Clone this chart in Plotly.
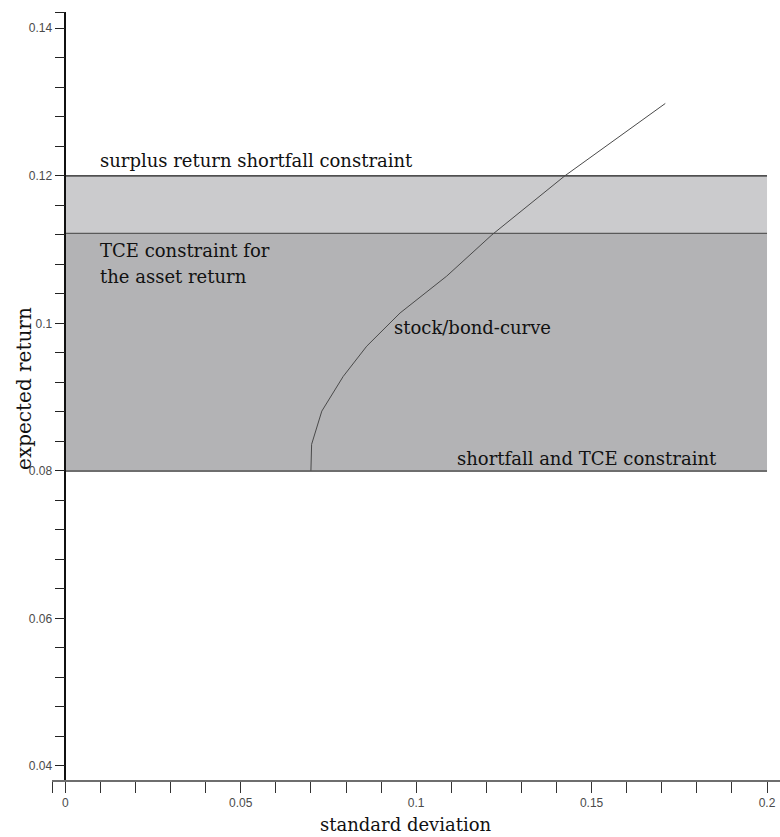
import plotly.graph_objects as go

# Stock/bond efficient curve (standard deviation, expected return)
curve_sd = [0.0700, 0.0702, 0.0731, 0.0792, 0.0859, 0.0954, 0.1087, 0.1216, 0.1424, 0.1710]
curve_ret = [0.0800, 0.0836, 0.0881, 0.0928, 0.0969, 0.1014, 0.1064, 0.1120, 0.1200, 0.1298]

# Constraint levels for expected return
shortfall_tce_level = 0.080
tce_asset_level = 0.1122
surplus_shortfall_level = 0.120
band_sd = [0.0, 0.2]

# Axis ticks
x_ticks = [-0.0037, 0.0, 0.05, 0.10, 0.15, 0.20]
x_labels = ["", "0", "0.05", "0.1", "0.15", "0.2"]
y_ticks = [0.04, 0.06, 0.08, 0.10, 0.12, 0.14, 0.1421]
y_labels = ["0.04", "0.06", "0.08", "0.1", "0.12", "0.14", ""]

x_range = [-0.0038, 0.2037]
y_range = [0.0381, 0.1422]

serif = "DejaVu Serif"
sans = "Liberation Sans"

fig = go.Figure()

# Shaded constraint bands
fig.add_shape(type="rect", xref="x", yref="y", layer="below",
              x0=band_sd[0], x1=band_sd[1], y0=tce_asset_level, y1=surplus_shortfall_level,
              fillcolor="#cbcbcd", line_width=0)
fig.add_shape(type="rect", xref="x", yref="y", layer="below",
              x0=band_sd[0], x1=band_sd[1], y0=shortfall_tce_level, y1=tce_asset_level,
              fillcolor="#b3b3b5", line_width=0)

# Constraint boundary lines
fig.add_trace(go.Scatter(x=band_sd, y=[surplus_shortfall_level] * 2, mode="lines",
                         line=dict(color="#1a1a1a", width=1.2), hoverinfo="skip"))
fig.add_trace(go.Scatter(x=band_sd, y=[tce_asset_level] * 2, mode="lines",
                         line=dict(color="#5a5a5a", width=1.2), hoverinfo="skip"))
fig.add_trace(go.Scatter(x=band_sd, y=[shortfall_tce_level] * 2, mode="lines",
                         line=dict(color="#6e6e6e", width=2), hoverinfo="skip"))

# Stock/bond curve
fig.add_trace(go.Scatter(x=curve_sd, y=curve_ret, mode="lines",
                         line=dict(color="#4a4a4a", width=1), hoverinfo="skip"))

label_font = dict(family=serif, size=18, color="#111111")
labels = [
    ("surplus return shortfall constraint", 0.0093, 0.1221),
    ("TCE constraint for", 0.0093, 0.1099),
    ("the asset return", 0.0093, 0.1063),
    ("stock/bond-curve", 0.0931, 0.0995),
    ("shortfall and TCE constraint", 0.1111, 0.0817),
]
for text, x, y in labels:
    fig.add_annotation(text=text, x=x, y=y, xref="x", yref="y", xanchor="left",
                       yanchor="middle", showarrow=False, font=label_font)

# Axis titles
fig.add_annotation(text="standard deviation", x=0.0971, y=-0.0740, xref="x", yref="paper",
                   xanchor="center", yanchor="bottom", showarrow=False, font=label_font)
fig.add_annotation(text="expected return", x=-0.0375, y=0.0912, xref="paper", yref="y",
                   xanchor="center", yanchor="middle", textangle=-90, showarrow=False,
                   font=dict(family=serif, size=20, color="#111111"))

fig.update_layout(
    width=780, height=837,
    margin=dict(l=52, r=0, t=12, b=57),
    paper_bgcolor="white", plot_bgcolor="white",
    showlegend=False,
    xaxis=dict(range=x_range, showgrid=False, zeroline=False,
               showline=True, linecolor="#6e6e6e", linewidth=2,
               tickmode="array", tickvals=x_ticks, ticktext=x_labels,
               ticks="outside", ticklen=11, tickwidth=1.3, tickcolor="#333333",
               tickfont=dict(family=sans, size=12, color="#4a4a4a"),
               minor=dict(dtick=0.01, tick0=0, ticks="outside", ticklen=11,
                          tickwidth=1.3, tickcolor="#333333", showgrid=False)),
    yaxis=dict(range=y_range, showgrid=False, zeroline=False,
               anchor="free", position=0.0183,
               showline=True, linecolor="#111111", linewidth=1.5,
               tickmode="array", tickvals=y_ticks, ticktext=y_labels,
               ticks="outside", ticklen=10, tickwidth=1.3, tickcolor="#222222",
               tickfont=dict(family=sans, size=12, color="#4a4a4a"),
               minor=dict(dtick=0.004, tick0=0.04, ticks="outside", ticklen=10,
                          tickwidth=1.3, tickcolor="#222222", showgrid=False)),
)

fig.write_html("out.html")
